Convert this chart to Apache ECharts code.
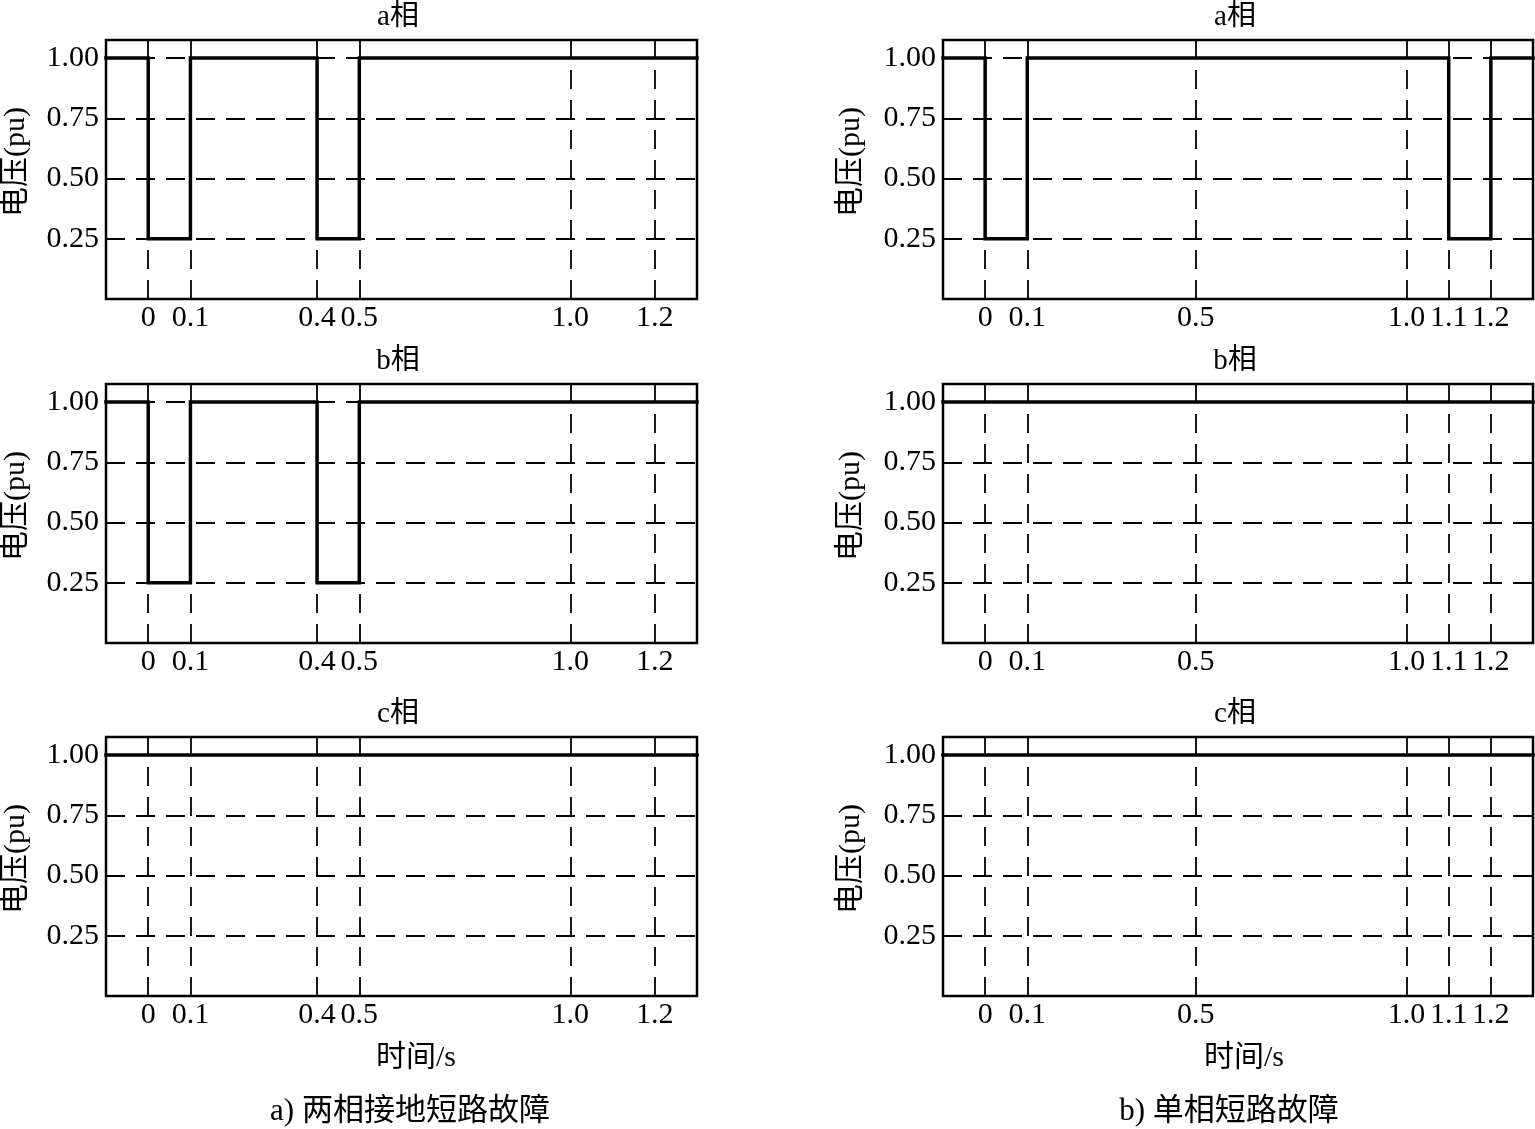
<!DOCTYPE html>
<html>
<head>
<meta charset="utf-8">
<script src="https://cdn.jsdelivr.net/npm/echarts@6/dist/echarts.min.js"></script>
<style>html,body{margin:0;padding:0;background:#fff}#c{width:1535px;height:1129px}</style>
</head>
<body>
<div id="c"></div>
<script>
// ---- data ----
const phaseTitles = ['a相', 'b相', 'c相'];
const yAxisName = '电压(pu)';
const xAxisName = '时间/s';
const captions = ['a) 两相接地短路故障', 'b) 单相短路故障'];
const yTicks = [0.25, 0.5, 0.75, 1.0];
const leftXTicks = [0, 0.1, 0.4, 0.5, 1.0, 1.2];
const leftXTickLabels = ['0', '0.1', '0.4', '0.5', '1.0', '1.2'];
const rightXTicks = [0, 0.1, 0.5, 1.0, 1.1, 1.2];
const rightXTickLabels = ['0', '0.1', '0.5', '1.0', '1.1', '1.2'];
// step series: breakpoint time and voltage held from that time on
const leftA_t = [-0.1, 0, 0.1, 0.4, 0.5, 1.3];
const leftA_v = [1, 0.25, 1, 0.25, 1, 1];
const leftB_t = [-0.1, 0, 0.1, 0.4, 0.5, 1.3];
const leftB_v = [1, 0.25, 1, 0.25, 1, 1];
const leftC_t = [-0.1, 1.3];
const leftC_v = [1, 1];
const rightA_t = [-0.1, 0, 0.1, 1.1, 1.2, 1.3];
const rightA_v = [1, 0.25, 1, 0.25, 1, 1];
const rightB_t = [-0.1, 1.3];
const rightB_v = [1, 1];
const rightC_t = [-0.1, 1.3];
const rightC_v = [1, 1];
const xRange = [-0.1, 1.3];
const yRange = [0, 1.075];

// ---- layout ----
const FONT = "'Liberation Serif', 'Noto Sans CJK SC', serif";
const FS = 30;
const cols = [{left: 106, width: 591, ticks: leftXTicks, labels: leftXTickLabels,
               series: [[leftA_t, leftA_v], [leftB_t, leftB_v], [leftC_t, leftC_v]],
               titleX: 398, nameX: 16, xNameX: 416, capX: 410},
              {left: 943, width: 590, ticks: rightXTicks, labels: rightXTickLabels,
               series: [[rightA_t, rightA_v], [rightB_t, rightB_v], [rightC_t, rightC_v]],
               titleX: 1235, nameX: 851, xNameX: 1244, capX: 1229}];
const rowTops = [40, 384, 737];
const gridH = 259;

const grid = [], xAxis = [], yAxis = [], series = [], graphic = [];
let idx = 0;
cols.forEach((col, ci) => {
  rowTops.forEach((top, ri) => {
    grid.push({left: col.left, top: top, width: col.width, height: gridH,
               show: true, borderColor: '#000', borderWidth: 2.5, backgroundColor: 'transparent'});
    xAxis.push({type: 'value', gridIndex: idx, min: xRange[0], max: xRange[1],
      axisLine: {show: false}, axisTick: {show: false}, splitLine: {show: false},
      axisLabel: {customValues: col.ticks, color: '#000', fontFamily: FONT, fontSize: FS, margin: 4,
        formatter: v => { const k = col.ticks.findIndex(t => Math.abs(t - v) < 1e-9); return k >= 0 ? col.labels[k] : ''; }}});
    yAxis.push({type: 'value', gridIndex: idx, min: yRange[0], max: yRange[1],
      axisLine: {show: false}, axisTick: {show: false}, splitLine: {show: false},
      axisLabel: {customValues: yTicks, color: '#000', fontFamily: FONT, fontSize: FS, margin: 7,
        formatter: v => v.toFixed(2)}});
    const [t, v] = col.series[ri];
    series.push({type: 'line', xAxisIndex: idx, yAxisIndex: idx, step: 'end', symbol: 'none',
      data: t.map((x, j) => [x, v[j]]), z: 5,
      lineStyle: {color: '#000', width: 3.5, cap: 'square', join: 'miter'},
      markLine: {silent: true, symbol: ['none', 'none'], label: {show: false}, animation: false,
        lineStyle: {color: '#000', width: 1.8, type: [19, 11]},
        emphasis: {disabled: true},
        data: [...col.ticks.map(x => ({xAxis: x})), ...yTicks.map(y => ({yAxis: y}))]}});
    graphic.push({type: 'text', x: col.titleX, y: top - 22.5,
      style: {text: phaseTitles[ri], font: '29px ' + FONT, fill: '#000', align: 'center', verticalAlign: 'middle'}});
    graphic.push({type: 'text', x: col.nameX, y: top + 122, rotation: Math.PI / 2,
      style: {text: yAxisName, font: '30px ' + FONT, fill: '#000', align: 'center', verticalAlign: 'middle'}});
    idx++;
  });
  graphic.push({type: 'text', x: col.xNameX, y: 1058,
    style: {text: xAxisName, font: '30px ' + FONT, fill: '#000', align: 'center', verticalAlign: 'middle'}});
  graphic.push({type: 'text', x: col.capX, y: 1112,
    style: {text: captions[ci], font: '31px ' + FONT, fill: '#000', align: 'center', verticalAlign: 'middle'}});
});

const chart = echarts.init(document.getElementById('c'), null, {renderer: 'canvas'});
chart.setOption({animation: false, backgroundColor: '#fff', grid, xAxis, yAxis, series, graphic});
</script>
</body>
</html>
